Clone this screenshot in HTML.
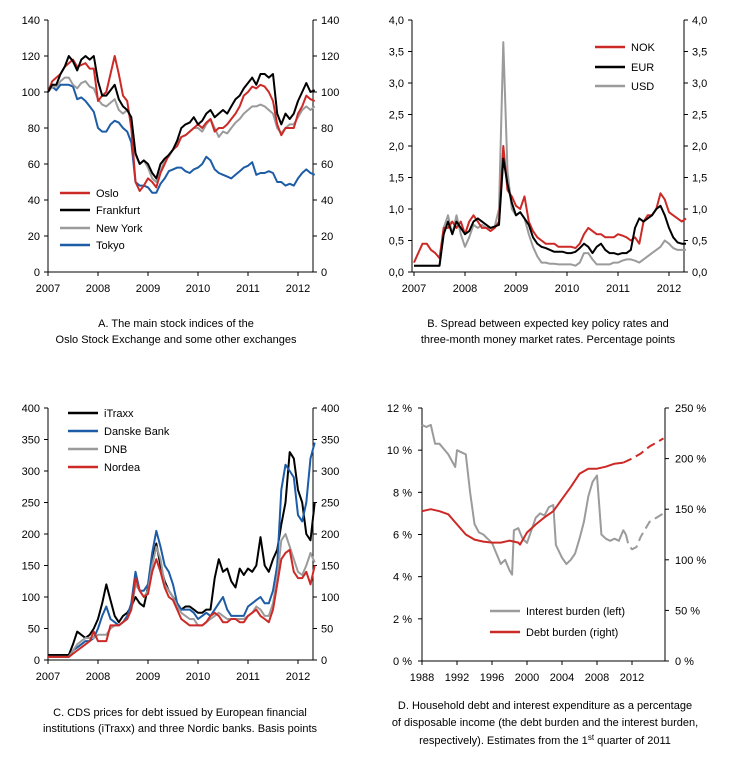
<!DOCTYPE html>
<html><head><meta charset="utf-8"><style>
body{margin:0;background:#fff;}
svg{display:block;font-family:"Liberation Sans",sans-serif;}
text{font-size:11px;fill:#000;}
</style></head><body>
<svg id="c" width="730" height="773"></svg>
<script>
// ---- Panel A data (monthly from Jan 2007) ----
const aOslo=[100,106,108,110,114,116,118,114,115,116,113,113, 95,98,100,110,120,110,98,95,80,50,45,48, 52,50,47,55,60,65,68,70,75,76,78,80, 82,80,83,85,78,80,80,82,85,88,92,98, 100,103,102,104,103,100,95,82,76,80,80,80, 88,92,98,96,95];
const aFrank=[100,104,104,110,114,120,117,112,118,120,118,120, 106,98,98,101,104,96,92,90,86,66,60,62, 60,55,52,60,63,65,68,73,80,82,83,86, 82,84,88,90,86,88,90,88,92,96,98,102, 105,108,104,110,110,108,110,88,82,88,85,88, 95,100,105,100,101];
const aNY=[100,103,103,106,108,108,104,102,105,106,103,102, 96,93,92,94,96,90,88,90,85,65,60,62, 58,52,50,56,62,64,68,72,75,76,78,80, 80,78,82,85,80,75,78,77,80,83,85,88, 90,92,92,93,92,90,88,80,77,80,82,82, 86,90,92,90,92];
const aTokyo=[100,103,101,104,104,104,103,96,97,95,92,89, 80,78,78,82,84,83,80,78,72,50,48,48, 47,44,44,49,52,56,57,58,58,56,55,57, 58,60,64,62,57,55,54,53,52,54,56,58, 59,61,54,55,55,56,55,50,50,48,49,48, 52,55,57,55,54];
const aTicks=[0,20,40,60,80,100,120,140];
const yearTicks=[2007,2008,2009,2010,2011,2012];
// ---- Panel B data ----
const bNOK=[0.15,0.3,0.45,0.45,0.35,0.3,0.22,0.7,0.7,0.8,0.7,0.8, 0.6,0.8,0.9,0.8,0.7,0.7,0.65,0.7,0.8,2.0,1.3,1.2, 1.05,1.0,1.2,0.8,0.65,0.55,0.5,0.45,0.45,0.45,0.4,0.4, 0.4,0.4,0.38,0.45,0.6,0.7,0.65,0.6,0.6,0.55,0.55,0.55, 0.6,0.58,0.55,0.5,0.55,0.45,0.8,0.9,0.9,1.0,1.25,1.15, 0.95,0.9,0.85,0.8,0.85];
const bEUR=[0.1,0.1,0.1,0.1,0.1,0.1,0.1,0.6,0.8,0.6,0.8,0.7, 0.6,0.65,0.8,0.85,0.8,0.75,0.7,0.72,0.75,1.8,1.4,1.1, 0.9,0.95,0.85,0.75,0.55,0.45,0.4,0.38,0.35,0.32,0.32,0.32, 0.3,0.3,0.32,0.38,0.45,0.4,0.3,0.4,0.45,0.35,0.3,0.3, 0.28,0.3,0.3,0.35,0.7,0.85,0.8,0.85,0.9,1.0,1.05,0.9, 0.7,0.55,0.47,0.45,0.45];
const bUSD=[0.1,0.1,0.1,0.1,0.1,0.1,0.1,0.7,0.9,0.6,0.9,0.6, 0.4,0.55,0.75,0.7,0.75,0.7,0.7,0.72,1.0,3.65,1.6,1.0, 0.9,0.95,0.85,0.6,0.4,0.25,0.15,0.15,0.13,0.13,0.12,0.12, 0.12,0.12,0.1,0.15,0.3,0.3,0.2,0.12,0.12,0.12,0.12,0.15, 0.15,0.18,0.2,0.2,0.18,0.15,0.2,0.25,0.3,0.35,0.4,0.5, 0.45,0.38,0.35,0.35,0.35];
const bTicks=["0,0","0,5","1,0","1,5","2,0","2,5","3,0","3,5","4,0"];
// ---- Panel C data ----
const cITraxx=[8,8,8,8,8,8,25,45,40,35,40,50, 65,90,120,95,70,60,70,75,85,100,90,85, 115,160,185,150,125,110,100,90,80,85,85,80, 75,75,80,80,130,160,140,145,125,115,145,135, 145,140,150,195,150,140,160,175,215,250,330,320, 270,250,200,190,250];
const cDanske=[5,5,5,5,5,5,15,20,25,30,30,35, 50,70,85,65,60,55,60,70,90,140,110,110, 120,170,205,180,150,140,120,90,80,80,80,75, 65,70,75,70,80,90,100,80,70,70,70,70, 85,90,95,100,90,90,110,150,270,310,300,290, 230,220,250,320,345];
const cDNB=[5,5,5,5,5,5,15,25,30,35,35,35, 40,40,40,50,55,55,60,65,80,120,110,100, 110,150,180,160,120,110,100,85,75,70,65,65, 55,55,60,65,70,75,70,65,65,65,65,65, 70,75,85,80,70,70,90,130,190,200,180,160, 140,135,150,170,155];
const cNordea=[5,5,5,5,5,5,10,15,20,25,30,45, 30,30,30,55,55,55,60,65,80,130,110,100, 105,140,160,140,115,100,95,80,65,60,55,55, 55,55,60,70,75,70,60,60,65,65,60,60, 70,75,80,70,65,60,80,120,160,170,175,140, 130,130,140,120,150];
const cTicks=[0,50,100,150,200,250,300,350,400];
// ---- Panel D data ----
const dIntYears=[1988,1988.5,1989,1989.5,1990,1991,1991.8,1992,1992.5,1993,1993.5,1994,1994.5,1995,1995.5,1996,1996.5,1997,1997.5,1998,1998.3,1998.5,1999,1999.5,2000,2000.5,2001,2001.5,2002,2002.5,2003,2003.3,2004,2004.5,2005,2005.5,2006,2006.5,2007,2007.5,2008,2008.5,2009,2009.5,2010,2010.5,2011,2011.3];
const dIntVals=[11.2,11.1,11.2,10.3,10.3,9.8,9.2,10.0,9.9,9.8,8.0,6.5,6.1,6.0,5.8,5.6,5.1,4.6,4.8,4.3,4.1,6.2,6.3,5.8,5.6,6.2,6.8,7.0,6.9,7.3,7.4,5.5,4.9,4.6,4.8,5.1,5.8,6.6,7.8,8.5,8.8,6.0,5.8,5.7,5.8,5.7,6.2,6.0];
const dIntFYears=[2011.3,2011.6,2012,2012.5,2013,2014,2015.6];
const dIntFVals=[6.0,5.5,5.3,5.4,5.9,6.6,7.0];
const dDebtYears=[1988,1989,1990,1991,1992,1993,1994,1995,1996,1997,1998,1999,1999.2,2000,2001,2002,2003,2004,2005,2006,2007,2008,2009,2010,2011];
const dDebtVals=[148,150,148,145,135,125,120,118,117,117,119,117,115,127,135,142,148,160,172,185,190,190,192,195,196];
const dDebtFYears=[2011,2012,2013,2014,2015.6];
const dDebtFVals=[196,200,205,212,220];
const dLeftTicks=["0 %","2 %","4 %","6 %","8 %","10 %","12 %"];
const dRightTicks=["0 %","50 %","100 %","150 %","200 %","250 %"];
const dYearTicks=[1988,1992,1996,2000,2004,2008,2012];

const svg=document.getElementById('c');
const NS='http://www.w3.org/2000/svg';
function mk(tag,attrs,name,parent){const e=document.createElementNS(NS,tag);for(const k in attrs)e.setAttribute(k,attrs[k]);


(parent||svg).appendChild(e);return e;}
function txt(x,y,s,anchor,name){const t=mk('text',{x:x,y:y,'text-anchor':anchor||'start'},name);t.textContent=s;return t;}
function linear(d0,d1,r0,r1){return v=>r0+(v-d0)/(d1-d0)*(r1-r0);}
function line(xs,ys,X,Y,color,w,name,dash){let d='';for(let i=0;i<xs.length;i++){d+=(i?'L':'M')+X(xs[i]).toFixed(1)+','+Y(ys[i]).toFixed(1);}
const a={d:d,fill:'none',stroke:color,'stroke-width':w,'stroke-linejoin':'round'};if(dash)a['stroke-dasharray']=dash;return mk('path',a,name);}
function frame(L,R,T,B,name){mk('line',{x1:L,y1:T,x2:L,y2:B,stroke:'#000','stroke-width':1},name+'-left-axis');
mk('line',{x1:R,y1:T,x2:R,y2:B,stroke:'#000','stroke-width':1},name+'-right-axis');
mk('line',{x1:L,y1:B,x2:R,y2:B,stroke:'#000','stroke-width':1},name+'-x-axis');}
const months=n=>Array.from({length:n},(_,i)=>2007+i/12);
const RED='#cc2a27',GRAY='#9b9b9b',BLUE='#1d5ca6';
function legend(x,y,color,label,name){mk('line',{x1:x,y1:y,x2:x+30,y2:y,stroke:color,'stroke-width':2.5},name+'-swatch');txt(x+36,y+4,label,'start',name);}

// Panel A
(function(){const L=48,R=313,T=20,B=272;const X=linear(2007,2012,L,298),Y=linear(0,140,B,T);
frame(L,R,T,B,'panel-a');
aTicks.forEach(v=>{const y=Y(v);mk('line',{x1:L-4,y1:y,x2:L,y2:y,stroke:'#000'},'a-left-tick');mk('line',{x1:R,y1:y,x2:R+4,y2:y,stroke:'#000'},'a-right-tick');
txt(L-8,y+4,String(v),'end','a-left-tick-label');txt(R+8,y+4,String(v),'start','a-right-tick-label');});
yearTicks.forEach(v=>{const x=X(v);mk('line',{x1:x,y1:B,x2:x,y2:B+4,stroke:'#000'},'a-x-tick');txt(x,B+20,String(v),'middle','a-x-tick-label');});
const xs=months(aOslo.length);
line(xs,aTokyo,X,Y,BLUE,2,'tokyo-line');line(xs,aNY,X,Y,GRAY,2,'new-york-line');line(xs,aOslo,X,Y,RED,2,'oslo-line');line(xs,aFrank,X,Y,'#000',2,'frankfurt-line');
legend(60,193,RED,'Oslo','legend-oslo');legend(60,210,'#000','Frankfurt','legend-frankfurt');legend(60,228,GRAY,'New York','legend-new-york');legend(60,245,BLUE,'Tokyo','legend-tokyo');
txt(176,327,'A. The main stock indices of the','middle','caption-a-line1');txt(176,343,'Oslo Stock Exchange and some other exchanges','middle','caption-a-line2');})();

// Panel B
(function(){const L=412,R=684,T=20,B=272;const X=linear(2007,2012,L+2,669),Y=linear(0,4,B,T);
frame(L,R,T,B,'panel-b');
bTicks.forEach((s,i)=>{const y=Y(i*0.5);mk('line',{x1:L-4,y1:y,x2:L,y2:y,stroke:'#000'},'b-left-tick');mk('line',{x1:R,y1:y,x2:R+4,y2:y,stroke:'#000'},'b-right-tick');
txt(L-8,y+4,s,'end','b-left-tick-label');txt(R+8,y+4,s,'start','b-right-tick-label');});
yearTicks.forEach(v=>{const x=X(v);mk('line',{x1:x,y1:B,x2:x,y2:B+4,stroke:'#000'},'b-x-tick');txt(x,B+20,String(v),'middle','b-x-tick-label');});
const xs=months(bNOK.length);
line(xs,bUSD,X,Y,GRAY,2,'usd-line');line(xs,bNOK,X,Y,RED,2,'nok-line');line(xs,bEUR,X,Y,'#000',2,'eur-line');
legend(595,47,RED,'NOK','legend-nok');legend(595,67,'#000','EUR','legend-eur');legend(595,86,GRAY,'USD','legend-usd');
txt(548,327,'B. Spread between expected key policy rates and','middle','caption-b-line1');txt(548,343,'three-month money market rates. Percentage points','middle','caption-b-line2');})();

// Panel C
(function(){const L=48,R=313,T=408,B=660;const X=linear(2007,2012,L,298),Y=linear(0,400,B,T);
frame(L,R,T,B,'panel-c');
cTicks.forEach(v=>{const y=Y(v);mk('line',{x1:L-4,y1:y,x2:L,y2:y,stroke:'#000'},'c-left-tick');mk('line',{x1:R,y1:y,x2:R+4,y2:y,stroke:'#000'},'c-right-tick');
txt(L-8,y+4,String(v),'end','c-left-tick-label');txt(R+8,y+4,String(v),'start','c-right-tick-label');});
yearTicks.forEach(v=>{const x=X(v);mk('line',{x1:x,y1:B,x2:x,y2:B+4,stroke:'#000'},'c-x-tick');txt(x,B+20,String(v),'middle','c-x-tick-label');});
const xs=months(cITraxx.length);
line(xs,cITraxx,X,Y,'#000',2,'itraxx-line');line(xs,cDanske,X,Y,BLUE,2,'danske-bank-line');line(xs,cDNB,X,Y,GRAY,2,'dnb-line');line(xs,cNordea,X,Y,RED,2,'nordea-line');
legend(68,413,'#000','iTraxx','legend-itraxx');legend(68,431,BLUE,'Danske Bank','legend-danske-bank');legend(68,449,GRAY,'DNB','legend-dnb');legend(68,467,RED,'Nordea','legend-nordea');
txt(180,716,'C. CDS prices for debt issued by European financial','middle','caption-c-line1');txt(180,732,'institutions (iTraxx) and three Nordic banks. Basis points','middle','caption-c-line2');})();

// Panel D
(function(){const L=422,R=665,T=408,B=661;const X=linear(1988,2012,L,632),YL=linear(0,12,B,T),YR=linear(0,250,B,T);
frame(L,R,T,B,'panel-d');
dLeftTicks.forEach((s,i)=>{const y=YL(i*2);mk('line',{x1:L-4,y1:y,x2:L,y2:y,stroke:'#000'},'d-left-tick');txt(L-10,y+4,s,'end','d-left-tick-label');});
dRightTicks.forEach((s,i)=>{const y=YR(i*50);mk('line',{x1:R,y1:y,x2:R+4,y2:y,stroke:'#000'},'d-right-tick');txt(R+10,y+4,s,'start','d-right-tick-label');});
dYearTicks.forEach(v=>{const x=X(v);mk('line',{x1:x,y1:B,x2:x,y2:B+4,stroke:'#000'},'d-x-tick');txt(x,B+20,String(v),'middle','d-x-tick-label');});
line(dIntYears,dIntVals,X,YL,GRAY,2,'interest-burden-line');line(dIntFYears,dIntFVals,X,YL,GRAY,2,'interest-burden-forecast-line','9,5');
line(dDebtYears,dDebtVals,X,YR,RED,2,'debt-burden-line');line(dDebtFYears,dDebtFVals,X,YR,RED,2,'debt-burden-forecast-line','9,5');
legend(490,611,GRAY,'Interest burden (left)','legend-interest-burden');legend(490,632,RED,'Debt burden (right)','legend-debt-burden');
txt(545,709,'D. Household debt and interest expenditure as a percentage','middle','caption-d-line1');txt(545,726,'of disposable income (the debt burden and the interest burden,','middle','caption-d-line2');
const t=txt(545,744,'respectively). Estimates from the 1','middle','caption-d-line3');const s=document.createElementNS(NS,'tspan');s.setAttribute('baseline-shift','super');s.setAttribute('font-size','8');s.textContent='st';t.appendChild(s);t.appendChild(document.createTextNode(' quarter of 2011'));})();
</script>
</body></html>
